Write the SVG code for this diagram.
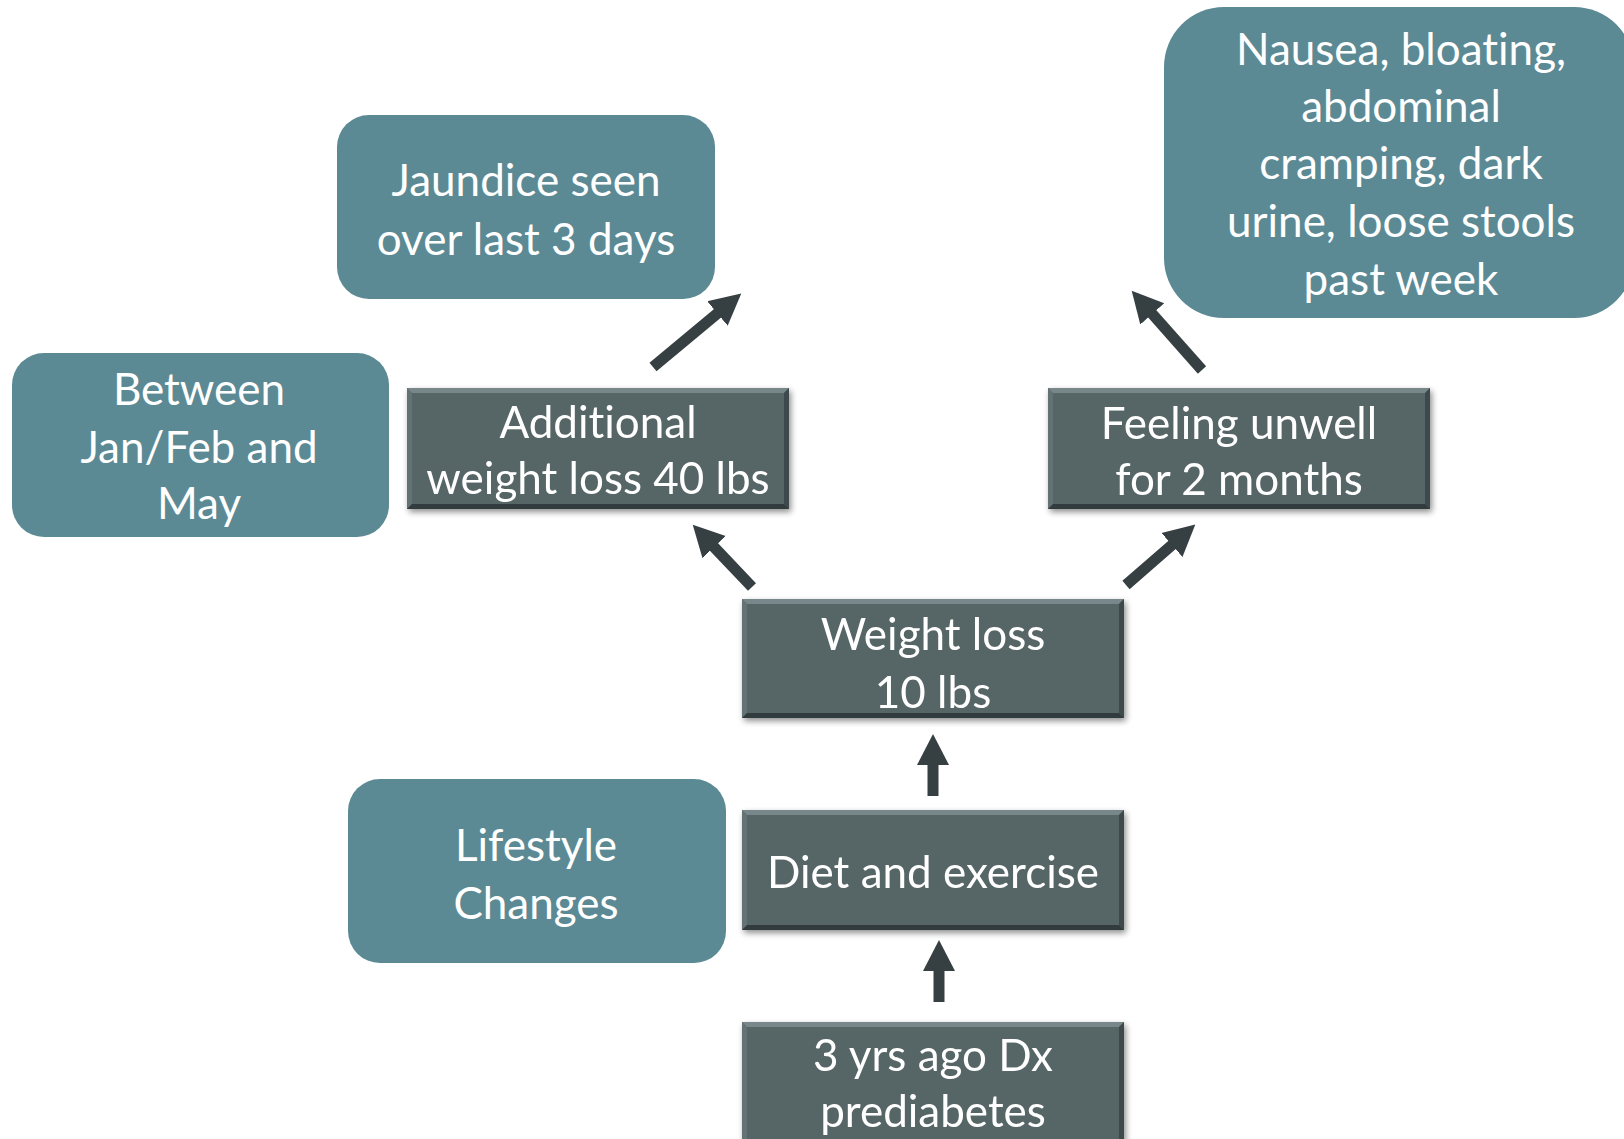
<svg xmlns="http://www.w3.org/2000/svg" width="1624" height="1139" viewBox="0 0 1624 1139">
  <defs>
    <style>
      .teal { fill: #5b8a95; }
      .dark { fill: #566566; }
      .bev-t { fill: #78878a; }
      .bev-l { fill: #647374; }
      .bev-r { fill: #3e494b; }
      .bev-b { fill: #323b3d; }
      .lbl { font-family: Lato, "Liberation Sans", sans-serif; font-size: 44px; fill: #ffffff; text-anchor: middle; font-variant-ligatures: none; font-feature-settings: "liga" 0, "clig" 0; }
      .conn { stroke: #363f42; stroke-width: 11; fill: none; }
    </style>
    <filter id="shadow" x="-10%" y="-10%" width="125%" height="130%">
      <feGaussianBlur in="SourceAlpha" stdDeviation="3"/>
      <feOffset dx="2" dy="3" result="b"/>
      <feComponentTransfer><feFuncA type="linear" slope="0.45"/></feComponentTransfer>
      <feMerge><feMergeNode/><feMergeNode in="SourceGraphic"/></feMerge>
    </filter>
    <marker id="ah" markerUnits="userSpaceOnUse" markerWidth="34" markerHeight="36" viewBox="0 -18 34 36" refX="1" refY="0" orient="auto">
      <path d="M0,-16 L31,0 L0,16 Z" fill="#363f42"/>
    </marker>
  </defs>

  <rect width="1624" height="1139" fill="#ffffff"/>

  <g id="connectors">
    <line class="conn" x1="752" y1="587" x2="713.4" y2="546.4" marker-end="url(#ah)"/>
    <line class="conn" x1="653" y1="367" x2="718.2" y2="312.8" marker-end="url(#ah)"/>
    <line class="conn" x1="1126" y1="585" x2="1172.7" y2="544.3" marker-end="url(#ah)"/>
    <line class="conn" x1="1202" y1="370" x2="1151.6" y2="313.2" marker-end="url(#ah)"/>
    <line class="conn" x1="933" y1="796" x2="933" y2="764" marker-end="url(#ah)"/>
    <line class="conn" x1="939" y1="1002" x2="939" y2="970" marker-end="url(#ah)"/>
  </g>

  <g id="jaundice">
    <rect class="teal" x="337" y="115" width="378" height="184" rx="32"/>
    <text class="lbl" x="526" y="196">Jaundice seen</text>
    <text class="lbl" x="526" y="255">over last 3 days</text>
  </g>

  <g id="nausea">
    <rect class="teal" x="1164" y="7" width="470" height="311" rx="60"/>
    <text class="lbl" x="1401" y="65">Nausea, bloating,</text>
    <text class="lbl" x="1401" y="122">abdominal</text>
    <text class="lbl" x="1401" y="179">cramping, dark</text>
    <text class="lbl" x="1401" y="237">urine, loose stools</text>
    <text class="lbl" x="1401" y="295">past week</text>
  </g>

  <g id="between">
    <rect class="teal" x="12" y="353" width="377" height="184" rx="32"/>
    <text class="lbl" x="199" y="405">Between</text>
    <text class="lbl" x="199" y="463">Jan/Feb and</text>
    <text class="lbl" x="199" y="519">May</text>
  </g>

  <g id="lifestyle">
    <rect class="teal" x="348" y="779" width="378" height="184" rx="32"/>
    <text class="lbl" x="536" y="861">Lifestyle</text>
    <text class="lbl" x="536" y="919">Changes</text>
  </g>

  <g id="additional" filter="url(#shadow)">
    <rect class="dark" x="407" y="388" width="382" height="121"/>
    <polygon class="bev-t" points="407,388 789,388 784,393 412,393"/>
    <polygon class="bev-l" points="407,388 412,393 412,504 407,509"/>
    <polygon class="bev-r" points="789,388 789,509 784,504 784,393"/>
    <polygon class="bev-b" points="407,509 412,504 784,504 789,509"/>
    <text class="lbl" x="598" y="438">Additional</text>
    <text class="lbl" x="598" y="494">weight loss 40 lbs</text>
  </g>

  <g id="feeling" filter="url(#shadow)">
    <rect class="dark" x="1048" y="388" width="382" height="121"/>
    <polygon class="bev-t" points="1048,388 1430,388 1425,393 1053,393"/>
    <polygon class="bev-l" points="1048,388 1053,393 1053,504 1048,509"/>
    <polygon class="bev-r" points="1430,388 1430,509 1425,504 1425,393"/>
    <polygon class="bev-b" points="1048,509 1053,504 1425,504 1430,509"/>
    <text class="lbl" x="1239" y="439">Feeling unwell</text>
    <text class="lbl" x="1239" y="495">for 2 months</text>
  </g>

  <g id="weight" filter="url(#shadow)">
    <rect class="dark" x="742" y="599" width="382" height="119"/>
    <polygon class="bev-t" points="742,599 1124,599 1119,604 747,604"/>
    <polygon class="bev-l" points="742,599 747,604 747,713 742,718"/>
    <polygon class="bev-r" points="1124,599 1124,718 1119,713 1119,604"/>
    <polygon class="bev-b" points="742,718 747,713 1119,713 1124,718"/>
    <text class="lbl" x="933" y="650">Weight loss</text>
    <text class="lbl" x="933" y="708">10 lbs</text>
  </g>

  <g id="diet" filter="url(#shadow)">
    <rect class="dark" x="742" y="810" width="382" height="120"/>
    <polygon class="bev-t" points="742,810 1124,810 1119,815 747,815"/>
    <polygon class="bev-l" points="742,810 747,815 747,925 742,930"/>
    <polygon class="bev-r" points="1124,810 1124,930 1119,925 1119,815"/>
    <polygon class="bev-b" points="742,930 747,925 1119,925 1124,930"/>
    <text class="lbl" x="933" y="888">Diet and exercise</text>
  </g>

  <g id="prediabetes" filter="url(#shadow)">
    <rect class="dark" x="742" y="1022" width="382" height="140"/>
    <polygon class="bev-t" points="742,1022 1124,1022 1119,1027 747,1027"/>
    <polygon class="bev-l" points="742,1022 747,1027 747,1162 742,1162"/>
    <polygon class="bev-r" points="1124,1022 1124,1162 1119,1162 1119,1027"/>
    <text class="lbl" x="933" y="1071">3 yrs ago Dx</text>
    <text class="lbl" x="933" y="1127">prediabetes</text>
  </g>
</svg>
